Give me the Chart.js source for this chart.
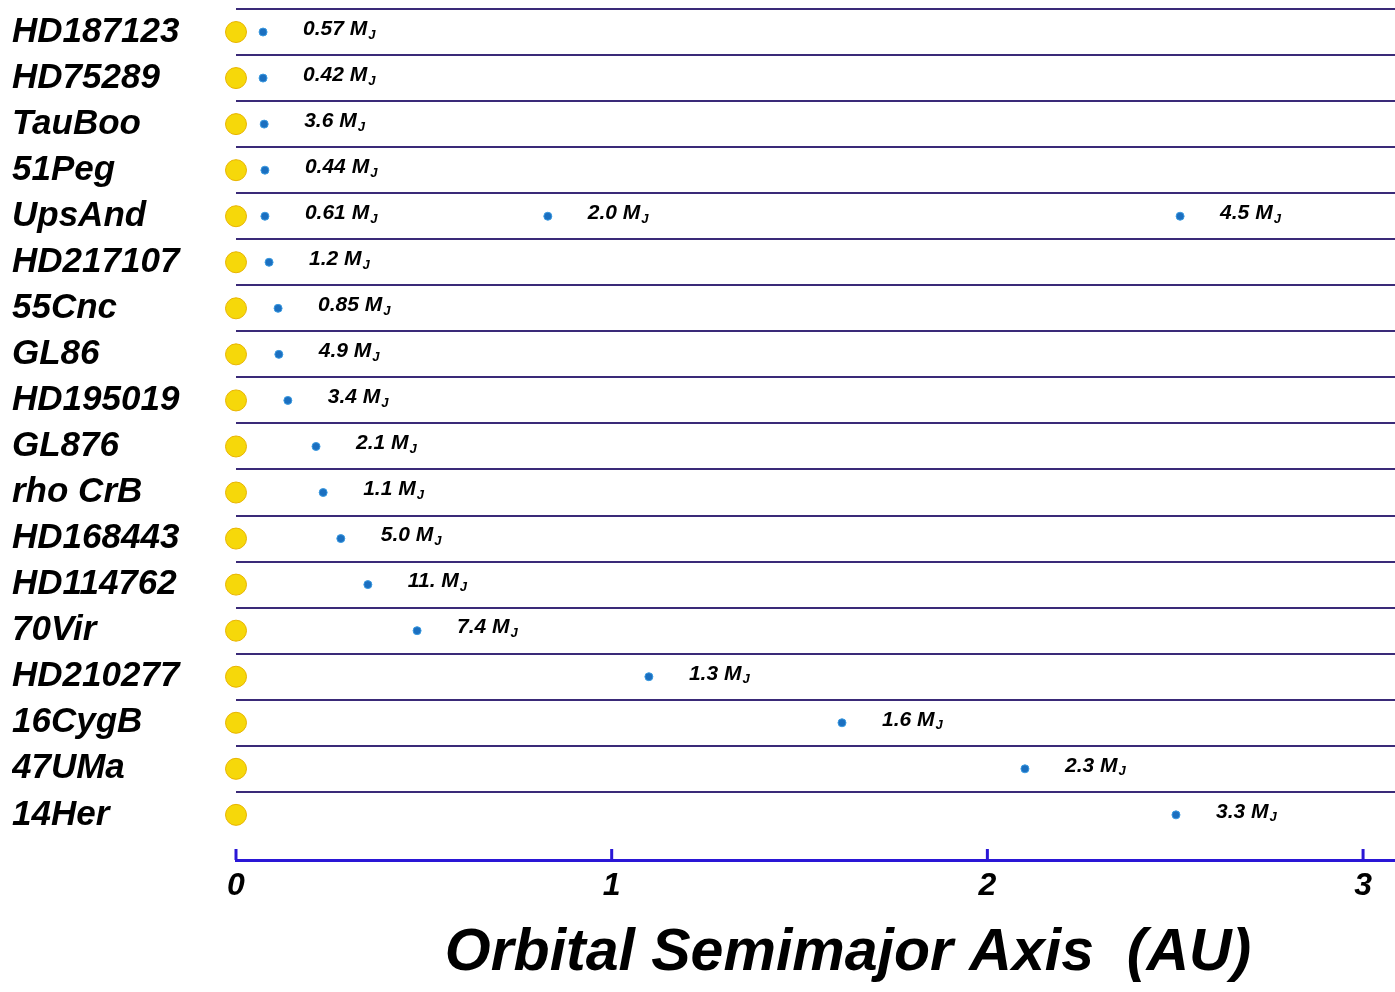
<!DOCTYPE html>
<html>
<head>
<meta charset="utf-8">
<script src="https://cdn.jsdelivr.net/npm/chart.js@4/dist/chart.umd.min.js"></script>
<style>
html,body{margin:0;padding:0;background:#fff;}
#wrap{width:1395px;height:992px;position:relative;}
</style>
</head>
<body>
<div id="wrap"><canvas id="c" width="1395" height="992"></canvas></div>
<script>
// ---- data ----
const stars = ['HD187123','HD75289','TauBoo','51Peg','UpsAnd','HD217107','55Cnc','GL86','HD195019','GL876','rho CrB','HD168443','HD114762','70Vir','HD210277','16CygB','47UMa','14Her'];
const planetRow = [0,1,2,3,4,4,4,5,6,7,8,9,10,11,12,13,14,15,16,17];
const planetAU  = [0.072,0.072,0.075,0.077,0.077,0.830,2.513,0.088,0.112,0.114,0.138,0.213,0.232,0.279,0.351,0.482,1.099,1.613,2.100,2.502];
const planetMass = ['0.57','0.42','3.6','0.44','0.61','2.0','4.5','1.2','0.85','4.9','3.4','2.1','1.1','5.0','11.','7.4','1.3','1.6','2.3','3.3'];
const xTicks = [0,1,2,3];
const axisTitle = 'Orbital Semimajor Axis  (AU)';

const FONT = '"Liberation Sans", Arial, sans-serif';
const sunData = stars.map((s,i)=>({x:0,y:i}));
const planetData = planetAU.map((a,i)=>({x:a,y:planetRow[i]}));

const massLabels = {
  id:'massLabels',
  afterDatasetsDraw(chart){
    const ctx = chart.ctx;
    const meta = chart.getDatasetMeta(1);
    ctx.save();
    ctx.fillStyle = '#000';
    ctx.textBaseline = 'middle';
    ctx.textAlign = 'left';
    meta.data.forEach((pt,i)=>{
      const x = pt.x + 40, y = pt.y - 3;
      ctx.font = 'italic bold 21px ' + FONT;
      const t = planetMass[i] + ' M';
      ctx.fillText(t, x, y);
      const w = ctx.measureText(t).width;
      ctx.font = 'italic bold 13px ' + FONT;
      ctx.fillText('J', x + w + 1, y + 6);
    });
    ctx.restore();
  }
};

const axisExtras = {
  id:'axisExtras',
  afterDraw(chart){
    const ctx = chart.ctx;
    const xs = chart.scales.x;
    const yb = chart.chartArea.bottom;
    ctx.save();
    ctx.strokeStyle = '#2a17d6';
    ctx.lineWidth = 3;
    xs.ticks.forEach(t=>{
      const px = xs.getPixelForValue(t.value);
      ctx.beginPath();
      ctx.moveTo(px, yb);
      ctx.lineTo(px, yb - 11);
      ctx.stroke();
    });
    ctx.fillStyle = '#000';
    ctx.font = 'italic bold 59px ' + FONT;
    ctx.textAlign = 'center';
    ctx.textBaseline = 'middle';
    ctx.fillText(axisTitle, 848, 954);
    ctx.restore();
  }
};

new Chart(document.getElementById('c'), {
  type:'scatter',
  data:{
    datasets:[
      {data:sunData, pointRadius:10.5, pointBackgroundColor:'#f6d80a', pointBorderColor:'#e8b400', pointBorderWidth:1, clip:false},
      {data:planetData, pointRadius:4, pointBackgroundColor:'#1b6fc0', pointBorderColor:'#3a9ae0', pointBorderWidth:1, clip:false}
    ]
  },
  options:{
    responsive:false,
    animation:false,
    events:[],
    layout:{autoPadding:false, padding:{left:12,top:9,right:0,bottom:0}},
    plugins:{legend:{display:false},tooltip:{enabled:false},title:{display:false}},
    scales:{
      x:{
        type:'linear', min:0, max:3.085,
        afterBuildTicks(s){ s.ticks = xTicks.map(v=>({value:v})); },
        afterFit(s){ s.height = 132; s.paddingLeft = 0; s.paddingRight = 0; },
        ticks:{color:'#000', font:{family:FONT, size:32, style:'italic', weight:'bold'}, padding:7, maxRotation:0, autoSkip:false},
        grid:{display:true, drawOnChartArea:false, drawTicks:false},
        border:{display:true, color:'#2a17d6', width:3}
      },
      y:{
        type:'linear', min:-0.5, max:17.98, reverse:true,
        afterBuildTicks(s){
          const t=[];
          for(let i=0;i<stars.length;i++){ t.push({value:i-0.5}); t.push({value:i}); }
          s.ticks = t;
        },
        afterFit(s){ s.width = 224; s.paddingTop = 0; s.paddingBottom = 0; },
        ticks:{
          autoSkip:false, crossAlign:'far', color:'#000', padding:0,
          font:{family:FONT, size:35, style:'italic', weight:'bold'},
          callback(v){ return Number.isInteger(v) ? stars[v] : ''; }
        },
        grid:{
          drawTicks:false, lineWidth:2,
          color(ctx){ return (ctx.tick && !Number.isInteger(ctx.tick.value)) ? '#3a2a78' : 'rgba(0,0,0,0)'; }
        },
        border:{display:false}
      }
    }
  },
  plugins:[massLabels, axisExtras]
});
</script>
</body>
</html>
